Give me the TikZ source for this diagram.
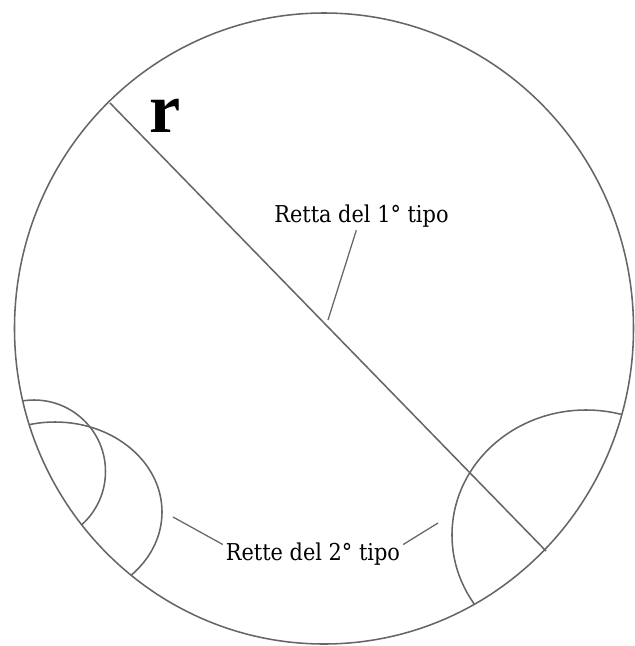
\documentclass[tikz,border=0pt]{standalone}
\usepackage{fontspec}
\setmainfont{DejaVu Serif Condensed}
\newfontfamily\bigserif{Liberation Serif}
\begin{document}
\begin{tikzpicture}[x=0.025cm,y=-0.025cm,
  rim/.style={draw=black!60,line width=1.1pt},
  lead/.style={draw=black!60,line width=0.9pt},
  lbl/.style={font=\fontsize{16.5}{18}\selectfont,inner sep=2pt}]
\useasboundingbox (0,0) rectangle (634,646);
% disc and the line of the 1st kind
\draw[rim] (324,328.5) ellipse [x radius=309.5,y radius=315.5];
\coordinate (rtop) at (110,103);
\coordinate (rbot) at (546,551);
\draw[rim] (rtop) -- (rbot);
\node[font=\bigserif\bfseries\fontsize{50}{50}\selectfont,inner sep=0pt] (rname) at (165,116) {r};
% lines of the 2nd kind, cut off by the disc
\begin{scope}
\clip (324,328.5) ellipse [x radius=309.5,y radius=315.5];
\draw[rim] (34,471.5) circle [radius=71.5];
\draw[rim] (55,512) ellipse [x radius=107,y radius=90];
\draw[rim] (586,535) ellipse [x radius=134,y radius=125];
\end{scope}
% labels
\node[lbl] (lblone) at (361.5,216) {Retta del 1° tipo};
\node[lbl] (lbltwo) at (313,554) {Rette del 2° tipo};
\coordinate (tipone) at (328,320);
\coordinate (tipA) at (173,517);
\coordinate (tipC) at (438,523);
\draw[lead] (lblone.250) -- (tipone);
\draw[lead] (lbltwo.174) -- (tipA);
\draw[lead] (lbltwo.6) -- (tipC);
\end{tikzpicture}
\end{document}
